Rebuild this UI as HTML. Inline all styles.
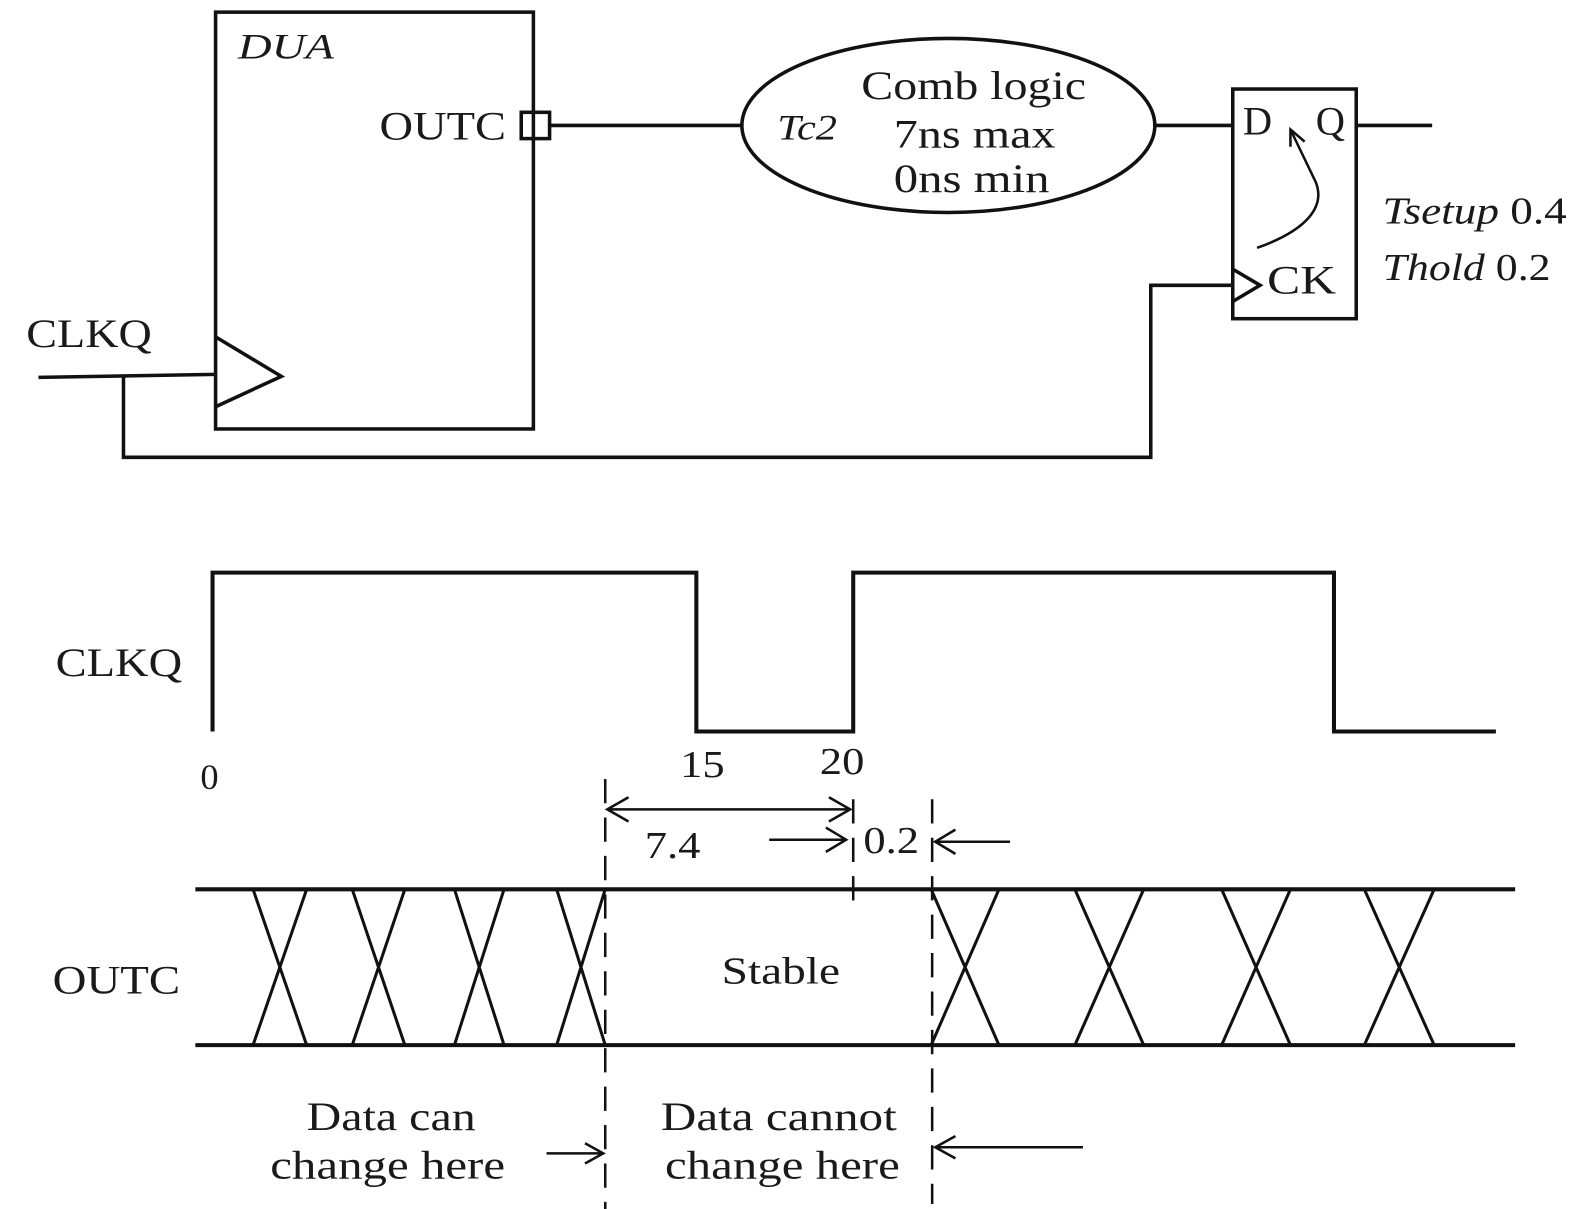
<!DOCTYPE html>
<html><head><style>html,body{margin:0;padding:0;background:#fff}svg{display:block}</style></head><body>
<svg width="1587" height="1209" viewBox="0 0 1568 1195" preserveAspectRatio="none" xmlns="http://www.w3.org/2000/svg" font-family="Liberation Serif, serif" fill="#1a1a1a">
<g stroke="#111" stroke-width="3.5" fill="none">
<rect x="213" y="12" width="314" height="412"/>
<rect x="515" y="111" width="28" height="26"/>
<line x1="543" y1="124" x2="733" y2="124"/>
<ellipse cx="937" cy="124" rx="204" ry="86"/>
<line x1="1141" y1="124" x2="1218" y2="124"/>
<rect x="1218" y="88" width="122" height="227"/>
<line x1="1340" y1="124" x2="1415" y2="124"/>
<polyline points="1218,266 1245,282 1218,298"/>
<path d="M1242,245 C1290,228 1310,205 1300,180 L1275,128" stroke-width="2.5"/>
<polyline points="1275,145 1275,128 1289,140" stroke-width="2.5"/>
<polyline points="1218,282 1137,282 1137,452 122,452 122,370"/>
<line x1="38" y1="373" x2="213" y2="370"/>
<polyline points="213,333 278,372 213,402"/>
<polyline points="210,723 210,566 688,566 688,723 843,723 843,566 1318,566 1318,723 1478,723" stroke-width="4"/>
<g stroke-dasharray="24,14" stroke-width="2.5">
<line x1="598" y1="770" x2="598" y2="1195"/>
<line x1="843" y1="790" x2="843" y2="890"/>
<line x1="921" y1="790" x2="921" y2="1190"/>
</g>
<g stroke-width="2.5">
<line x1="600" y1="800" x2="840" y2="800"/>
<polyline points="621,788 600,800 621,812"/><polyline points="819,788 840,800 819,812"/>
<line x1="760" y1="830" x2="836" y2="830"/><polyline points="816,818 836,830 816,842"/>
<line x1="998" y1="832" x2="924" y2="832"/><polyline points="944,820 924,832 944,844"/>
<line x1="540" y1="1140" x2="596" y2="1140"/><polyline points="578,1130 596,1140 578,1150"/>
<line x1="1070" y1="1134" x2="924" y2="1134"/><polyline points="944,1123 924,1134 944,1145"/>
</g>
<g stroke-width="4">
<line x1="193" y1="879" x2="1497" y2="879"/>
<line x1="193" y1="1033" x2="1497" y2="1033"/>
</g>
<g stroke-width="3">
<path d="M250,879 L303,1033 M303,879 L250,1033 M348,879 L400,1033 M400,879 L348,1033 M449,879 L498,1033 M498,879 L449,1033 M550,879 L598,1033 M598,879 L550,1033"/>
<path d="M920,879 L987,1033 M987,879 L920,1033 M1062,879 L1130,1033 M1130,879 L1062,1033 M1207,879 L1275,1033 M1275,879 L1207,1033 M1348,879 L1417,1033 M1417,879 L1348,1033"/>
</g>
</g>
<g font-size="40" lengthAdjust="spacingAndGlyphs">
<text x="235" y="58" font-style="italic" font-size="36" textLength="95" lengthAdjust="spacingAndGlyphs">DUA</text>
<text x="375" y="138" textLength="125" lengthAdjust="spacingAndGlyphs">OUTC</text>
<text x="851" y="98" textLength="222" lengthAdjust="spacingAndGlyphs">Comb logic</text>
<text x="883" y="146" textLength="160" lengthAdjust="spacingAndGlyphs">7ns max</text>
<text x="883" y="190" textLength="154" lengthAdjust="spacingAndGlyphs">0ns min</text>
<text x="768" y="138" font-style="italic" font-size="36" textLength="59" lengthAdjust="spacingAndGlyphs">Tc2</text>
<text x="1228" y="133">D</text>
<text x="1300" y="133">Q</text>
<text x="1252" y="290" textLength="68" lengthAdjust="spacingAndGlyphs">CK</text>
<text x="1366" y="221" font-size="38" textLength="182" lengthAdjust="spacingAndGlyphs"><tspan font-style="italic">Tsetup</tspan> 0.4</text>
<text x="1366" y="277" font-size="38" textLength="166" lengthAdjust="spacingAndGlyphs"><tspan font-style="italic">Thold</tspan> 0.2</text>
<text x="26" y="343" textLength="124" lengthAdjust="spacingAndGlyphs">CLKQ</text>
<text x="55" y="668" textLength="125" lengthAdjust="spacingAndGlyphs">CLKQ</text>
<text x="198" y="780" font-size="36">0</text>
<text x="672" y="768" font-size="38" textLength="44" lengthAdjust="spacingAndGlyphs">15</text>
<text x="810" y="765" font-size="38" textLength="44" lengthAdjust="spacingAndGlyphs">20</text>
<text x="637" y="848" font-size="38" textLength="55" lengthAdjust="spacingAndGlyphs">7.4</text>
<text x="853" y="843" font-size="38" textLength="55" lengthAdjust="spacingAndGlyphs">0.2</text>
<text x="52" y="982" textLength="126" lengthAdjust="spacingAndGlyphs">OUTC</text>
<text x="713" y="972" font-size="38" textLength="117" lengthAdjust="spacingAndGlyphs">Stable</text>
<text x="303" y="1117" textLength="167" lengthAdjust="spacingAndGlyphs">Data can</text>
<text x="267" y="1165" textLength="232" lengthAdjust="spacingAndGlyphs">change here</text>
<text x="653" y="1117" textLength="233" lengthAdjust="spacingAndGlyphs">Data cannot</text>
<text x="657" y="1165" textLength="232" lengthAdjust="spacingAndGlyphs">change here</text>
</g>
</svg>
</body></html>
